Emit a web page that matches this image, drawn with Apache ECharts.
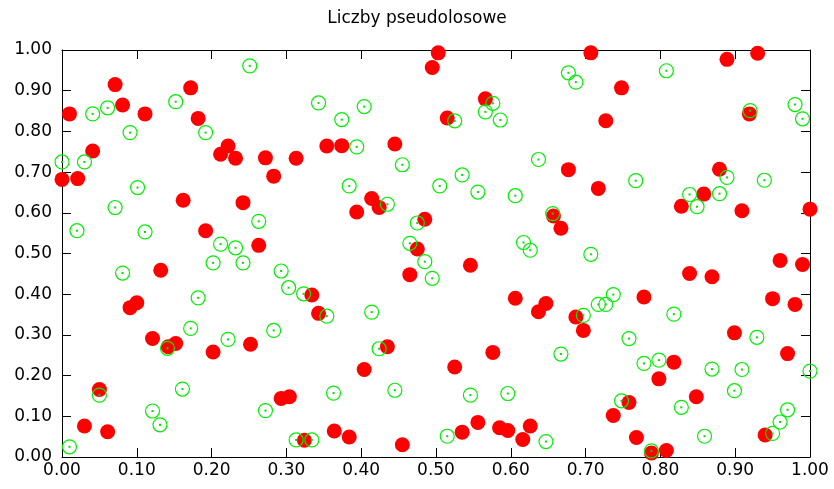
<!DOCTYPE html>
<html>
<head>
<meta charset="utf-8">
<script src="https://cdn.jsdelivr.net/npm/echarts@6/dist/echarts.min.js"></script>
<style>html,body{margin:0;padding:0;background:#fff}#c{width:834px;height:489px}</style>
</head>
<body>
<div id="c"></div>
<script>
const titleText = 'Liczby pseudolosowe';
const xTickLabels = ['0.00','0.10','0.20','0.30','0.40','0.50','0.60','0.70','0.80','0.90','1.00'];
const yTickLabels = ['0.00','0.10','0.20','0.30','0.40','0.50','0.60','0.70','0.80','0.90','1.00'];

const redX = [0.071,0.081,0.172,0.010,0.111,0.182,0.041,0.222,0.212,0.232,0.000,0.021,0.503,0.495,0.354,0.374,0.445,0.272,0.313,0.283,
0.707,0.748,0.566,0.515,0.727,0.677,0.930,0.889,0.919,0.879,0.162,0.242,0.192,0.132,0.100,0.091,0.414,0.394,0.424,0.485,
0.475,0.263,0.465,0.334,0.343,0.717,0.657,0.667,0.546,0.606,0.647,0.637,0.687,0.858,0.828,0.909,1.000,0.960,0.990,0.839,
0.869,0.778,0.950,0.980,0.050,0.030,0.061,0.121,0.142,0.152,0.202,0.252,0.435,0.404,0.293,0.304,0.324,0.364,0.384,0.455,
0.697,0.576,0.525,0.758,0.737,0.556,0.535,0.585,0.596,0.626,0.616,0.768,0.899,0.970,0.818,0.798,0.848,0.940,0.788,0.808];
const redY = [0.915,0.865,0.907,0.843,0.843,0.832,0.752,0.764,0.744,0.734,0.682,0.684,0.993,0.957,0.764,0.765,0.769,0.735,0.734,0.690,
0.993,0.907,0.880,0.833,0.826,0.706,0.992,0.977,0.843,0.707,0.631,0.625,0.556,0.459,0.379,0.367,0.635,0.602,0.613,0.584,
0.511,0.520,0.448,0.398,0.353,0.660,0.592,0.562,0.471,0.390,0.377,0.357,0.344,0.646,0.616,0.605,0.609,0.483,0.473,0.451,
0.443,0.393,0.389,0.375,0.166,0.076,0.062,0.291,0.271,0.279,0.258,0.277,0.271,0.215,0.144,0.148,0.041,0.064,0.049,0.030,
0.311,0.257,0.221,0.134,0.102,0.085,0.061,0.072,0.065,0.076,0.043,0.048,0.305,0.254,0.233,0.192,0.148,0.054,0.010,0.016];

const greenX = [0.000,0.041,0.061,0.091,0.152,0.192,0.030,0.251,0.343,0.404,0.374,0.394,0.455,0.677,0.687,0.576,0.566,0.586,0.525,0.637,
0.535,0.767,0.808,0.920,0.980,0.990,0.889,0.939,0.101,0.071,0.020,0.111,0.212,0.232,0.202,0.242,0.081,0.182,0.384,0.505,
0.435,0.263,0.475,0.465,0.485,0.495,0.293,0.303,0.323,0.354,0.414,0.556,0.606,0.656,0.617,0.626,0.707,0.737,0.717,0.727,
0.697,0.839,0.879,0.849,0.818,0.010,0.050,0.141,0.172,0.222,0.161,0.121,0.131,0.283,0.424,0.363,0.445,0.272,0.313,0.334,
0.667,0.758,0.546,0.596,0.748,0.515,0.647,0.929,0.778,0.798,0.869,0.909,1.000,0.899,0.828,0.970,0.960,0.950,0.859,0.788];
const greenY = [0.725,0.843,0.858,0.797,0.873,0.797,0.725,0.961,0.870,0.861,0.829,0.762,0.718,0.944,0.921,0.869,0.848,0.828,0.826,0.731,
0.693,0.679,0.949,0.851,0.866,0.831,0.687,0.680,0.662,0.613,0.556,0.553,0.523,0.514,0.477,0.477,0.452,0.391,0.666,0.666,
0.621,0.579,0.575,0.525,0.480,0.439,0.457,0.416,0.401,0.346,0.356,0.651,0.642,0.598,0.527,0.508,0.498,0.399,0.375,0.375,
0.348,0.645,0.647,0.615,0.351,0.025,0.152,0.267,0.316,0.289,0.167,0.113,0.079,0.311,0.266,0.157,0.164,0.114,0.042,0.042,
0.253,0.291,0.152,0.156,0.138,0.051,0.038,0.294,0.230,0.238,0.216,0.215,0.211,0.163,0.122,0.116,0.086,0.058,0.051,0.015];

const redData = redX.map((x, i) => [x, redY[i]]);
const greenData = greenX.map((x, i) => [x, greenY[i]]);

const FONT = 'DejaVu Sans';
const chart = echarts.init(document.getElementById('c'), null, {renderer: 'canvas'});

function mkAxis(type, pos, showLabel, labels) {
  return {
    type: 'value', position: pos, min: 0, max: 1, interval: 0.1,
    axisLine: {show: true, onZero: false, lineStyle: {color: '#000', width: 1}},
    axisTick: {show: true, inside: true, length: 9, lineStyle: {color: '#000', width: 1}},
    splitLine: {show: false},
    axisLabel: {
      show: showLabel, color: '#000', fontFamily: FONT, fontSize: 17,
      margin: type === 'x' ? 5 : 10,
      formatter: (v) => labels[Math.round(v * 10)]
    }
  };
}

chart.setOption({
  animation: false,
  backgroundColor: '#fff',
  title: {
    text: titleText, left: 'center', top: 5,
    textStyle: {fontFamily: FONT, fontSize: 17, fontWeight: 'normal', color: '#000'}
  },
  grid: {left: 62, right: 24, top: 50, bottom: 32, containLabel: false},
  xAxis: [mkAxis('x', 'bottom', true, xTickLabels), mkAxis('x', 'top', false, xTickLabels)],
  yAxis: [mkAxis('y', 'left', true, yTickLabels), mkAxis('y', 'right', false, yTickLabels)],
  series: [
    {
      type: 'scatter', data: redData, symbol: 'circle', symbolSize: 15, clip: false,
      itemStyle: {color: '#ff0000', opacity: 1}
    },
    {
      type: 'scatter', data: greenData, symbol: 'circle', symbolSize: 14, clip: false,
      itemStyle: {color: 'rgba(0,0,0,0)', borderColor: '#00ee00', borderWidth: 1.2, opacity: 1}
    },
    {
      type: 'scatter', data: greenData, symbol: 'rect', symbolSize: 2, clip: false,
      itemStyle: {color: '#00dd00', opacity: 1}
    }
  ]
});
</script>
</body>
</html>
